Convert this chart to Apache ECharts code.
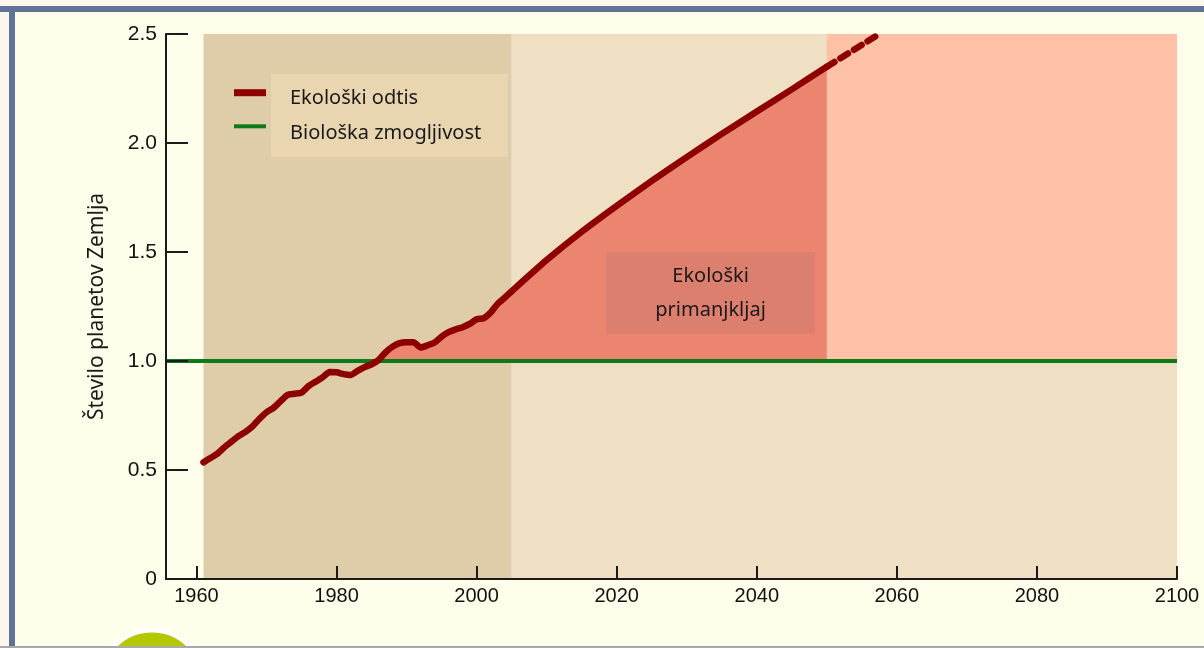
<!DOCTYPE html>
<html>
<head>
<meta charset="utf-8">
<script src="https://cdn.jsdelivr.net/npm/echarts@6/dist/echarts.min.js"></script>
<style>
  html, body { margin: 0; padding: 0; background: #fffeea; }
  #chart { width: 1204px; height: 648px; }
</style>
</head>
<body>
<div id="chart"></div>
<script>
// ---- data ----
const footprintYears = [1961,1962,1963,1964,1965,1966,1967,1968,1969,1970,1971,1972,1973,1974,1975,1976,1977,1978,1979,1980,
  1981,1982,1983,1984,1985,1986,1987,1988,1989,1990,1991,1992,1993,1994,1995,1996,1997,1998,1999,2000,
  2001,2002,2003,2004,2005,2010,2015,2020,2025,2030,2035,2040,2045,2050];
const footprintValues = [0.535,0.555,0.575,0.605,0.630,0.655,0.675,0.700,0.735,0.765,0.785,0.815,0.845,0.850,0.855,0.885,0.905,0.925,0.950,0.948,
  0.940,0.936,0.955,0.972,0.985,1.005,1.040,1.066,1.082,1.086,1.086,1.062,1.072,1.085,1.112,1.132,1.145,1.155,1.170,1.192,
  1.196,1.222,1.262,1.290,1.320,1.463,1.593,1.712,1.826,1.935,2.042,2.144,2.246,2.350];
const projectionYears = [2050, 2057];
const projectionValues = [2.350, 2.490];
const bioCapacity = 1.0;
const xTicks = [1960,1980,2000,2020,2040,2060,2080,2100];
const yTicks = [0,0.5,1,1.5,2,2.5];
const yTickLabels = ['0','0.5','1.0','1.5','2.0','2.5'];
const seriesNames = ['Ekološki odtis', 'Biološka zmogljivost'];
const deficitLabel = 'Ekološki\nprimanjkljaj';
const yAxisName = 'Število planetov Zemlja';
// period boundaries (years)
const histStart = 1961, histEnd = 2005, projEnd = 2050;

// ---- config ----
const X_MIN = 1955.65, X_MAX = 2100;
const RED = '#8e0000', GREEN = '#0c7a18';
const TXT = '#1a1a1a';
const FONT = '"Noto Sans", sans-serif';
const AXFONT = '"Liberation Sans", Arial, sans-serif';

const footprintData = footprintYears.map((y, i) => [y, footprintValues[i]]);
const deficitData = footprintYears.map((y, i) => [y, Math.max(footprintValues[i], bioCapacity)]);
const projectionData = projectionYears.map((y, i) => [y, projectionValues[i]]);
const bioData = [[X_MIN, bioCapacity], [X_MAX, bioCapacity]];

const chart = echarts.init(document.getElementById('chart'), null, { renderer: 'canvas' });

const legendText = { color: TXT, fontFamily: FONT, fontSize: 20, lineHeight: 20, padding: [0, 0, 0, 19] };

chart.setOption({
  backgroundColor: '#fffeea',
  animation: false,
  grid: { left: 166, right: 27, top: 34, bottom: 69, containLabel: false },
  xAxis: {
    type: 'value', min: X_MIN, max: X_MAX, z: 10,
    axisLine: { show: true, lineStyle: { color: TXT, width: 2 } },
    axisTick: { show: true, inside: true, length: 13, customValues: xTicks, lineStyle: { color: TXT, width: 2 } },
    axisLabel: { customValues: xTicks, formatter: v => String(v), color: '#111', fontFamily: AXFONT, fontSize: 20, margin: 7 },
    splitLine: { show: false }
  },
  yAxis: {
    type: 'value', min: 0, max: 2.5, interval: 0.5, z: 10,
    name: yAxisName, nameLocation: 'middle', nameGap: 58, nameRotate: 90,
    nameTextStyle: { color: TXT, fontFamily: FONT, fontSize: 21 },
    axisLine: { show: true, lineStyle: { color: TXT, width: 2 } },
    axisTick: { show: true, inside: true, length: 22, lineStyle: { color: TXT, width: 2 } },
    axisLabel: {
      color: '#111', fontFamily: AXFONT, fontSize: 21, margin: 9,
      formatter: v => { const i = yTicks.indexOf(Math.round(v * 10) / 10); return i >= 0 ? yTickLabels[i] : ''; }
    },
    splitLine: { show: false }
  },
  legend: [
    // texts
    { data: seriesNames, orient: 'vertical', left: 234, top: 88.3, padding: 0, itemGap: 14.5,
      icon: 'none', itemWidth: 32, itemHeight: 20, textStyle: legendText, selectedMode: false, z: 6 },
    // icons
    { data: [seriesNames[0]], left: 234, top: 89.2, padding: 0, icon: 'rect', itemWidth: 32, itemHeight: 7,
      formatter: () => '', textStyle: { fontSize: 1, lineHeight: 1 }, selectedMode: false, z: 6 },
    { data: [seriesNames[1]], left: 234, top: 124.3, padding: 0, icon: 'rect', itemWidth: 32, itemHeight: 4,
      formatter: () => '', textStyle: { fontSize: 1, lineHeight: 1 }, selectedMode: false, z: 6 }
  ],
  graphic: [
    { type: 'rect', shape: { x: 0, y: 0, width: 1204, height: 6 }, style: { fill: '#fcf6ec' }, z: 10 },
    { type: 'rect', shape: { x: 0, y: 6, width: 1204, height: 6 }, style: { fill: '#5e7396' }, z: 10 },
    { type: 'rect', shape: { x: 0, y: 12, width: 9, height: 636 }, style: { fill: '#fcf6ec' }, z: 10 },
    { type: 'rect', shape: { x: 9, y: 6, width: 6, height: 642 }, style: { fill: '#5e7396' }, z: 10 },
    { type: 'circle', shape: { cx: 152, cy: 682, r: 52 }, style: { fill: '#b4c800', stroke: '#ffffff', lineWidth: 5 }, z: 10 },
    { type: 'rect', shape: { x: 0, y: 646, width: 1204, height: 2 }, style: { fill: '#a9a9a9' }, z: 11 },
    // legend panel
    { type: 'rect', shape: { x: 271, y: 74, width: 237, height: 83 }, style: { fill: '#e9d6b0' }, z: 3 }
  ],
  series: [
    {
      name: 'periods', type: 'line', data: [], z: 1, silent: true,
      markArea: {
        silent: true, z: 1,
        data: [
          [{ xAxis: histEnd, yAxis: 0, itemStyle: { color: '#efdfc3' } }, { xAxis: X_MAX, yAxis: 2.5 }],
          [{ xAxis: histStart, yAxis: 0, itemStyle: { color: '#dfcdaa' } }, { xAxis: histEnd, yAxis: 2.5 }],
          [{ xAxis: projEnd, yAxis: bioCapacity, itemStyle: { color: '#ffc2a6' } }, { xAxis: X_MAX, yAxis: 2.5 }]
        ]
      }
    },
    {
      name: 'deficit', type: 'line', data: deficitData, z: 2, silent: true,
      showSymbol: false, lineStyle: { width: 0, opacity: 0 },
      areaStyle: { color: '#ec8570', opacity: 1, origin: bioCapacity }
    },
    {
      name: 'deficitBox', type: 'line', data: [], z: 3, silent: true,
      markArea: {
        silent: true, z: 3,
        data: [
          [{
            name: deficitLabel, xAxis: 2018.5, yAxis: 1.125,
            itemStyle: { color: '#dd7f6f' },
            label: { show: true, position: 'inside', color: TXT, fontFamily: FONT, fontSize: 20, lineHeight: 34 }
          }, { xAxis: 2048.3, yAxis: 1.5 }]
        ]
      }
    },
    {
      name: seriesNames[1], type: 'line', data: bioData, z: 4,
      showSymbol: false, itemStyle: { color: GREEN },
      lineStyle: { color: GREEN, width: 4 }
    },
    {
      name: seriesNames[0], type: 'line', data: footprintData, z: 5, smooth: 0.2,
      showSymbol: false, itemStyle: { color: RED },
      lineStyle: { color: RED, width: 6.5, cap: 'round', join: 'round' }
    },
    {
      name: 'projection', type: 'line', data: projectionData, z: 5,
      showSymbol: false, itemStyle: { color: RED },
      lineStyle: { color: RED, width: 6.5, type: [9, 7], cap: 'round' }
    }
  ]
});
</script>
</body>
</html>
